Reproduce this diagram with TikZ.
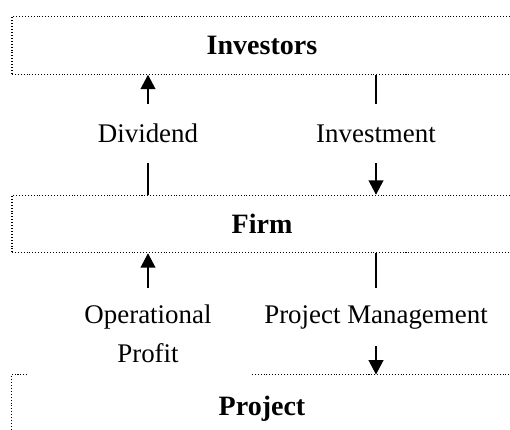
\documentclass[tikz,border=0pt]{standalone}
\usepackage{fontspec}
\setmainfont{Liberation Serif}
\usetikzlibrary{arrows.meta}
\begin{document}
\begin{tikzpicture}[x=0.446pt,y=-0.446pt,
    font=\fontsize{12}{14.5}\selectfont,
    box/.style={minimum width=223pt,minimum height=25.6pt,inner sep=0pt,
        font=\fontsize{12.5}{15}\selectfont\bfseries},
    dotline/.style={line width=0.5pt,dash pattern=on 0.45pt off 0.85pt},
    flow/.style={line width=0.6pt},
    tip/.style={flow,-{Triangle[length=6.4pt,width=6.6pt]}}]
    \useasboundingbox (0,0) rectangle (510,430);
    \clip (0,0) rectangle (510,430);
    % Draw the boxes
    \node[box,draw,dotline] (inv) at (262,45.5) {Investors};
    \node[box,draw,dotline] (firm) at (262,224) {Firm};
    \node[box,minimum height=30pt] (proj) at (262,408.6) {Project};

    % Draw the flow labels
    \node[minimum height=26.3pt,inner sep=0pt] (div) at (148,133.5) {Dividend};
    \node[minimum height=26.3pt,inner sep=0pt] (ivt) at (376,133.5) {Investment};
    \node[anchor=north,inner ysep=7.5pt,align=center] (opp) at (148,288) {Operational\\[2.5pt]Profit};
    \node[anchor=north,inner ysep=7.5pt] (pm) at (376,288) {Project Management};

    % Draw the open edges of the project box
    \draw[dotline] ([xshift=7pt]proj.north west) -- (proj.north west) -- (proj.south west);
    \draw[dotline] ([xshift=-2pt]pm.west |- proj.north) -- (proj.north east);

    % Draw the flows
    \draw[tip] (div.north) -- (div.north |- inv.south);
    \draw[flow] (firm.north -| div.south) -- (div.south);
    \draw[flow] (inv.south -| ivt.north) -- (ivt.north);
    \draw[tip] (ivt.south) -- (ivt.south |- firm.north);
    \draw[tip] (opp.north) -- (opp.north |- firm.south);
    \draw[flow] (firm.south -| pm.north) -- (pm.north);
    \draw[tip] (pm.south) -- (pm.south |- proj.north);
\end{tikzpicture}
\end{document}
